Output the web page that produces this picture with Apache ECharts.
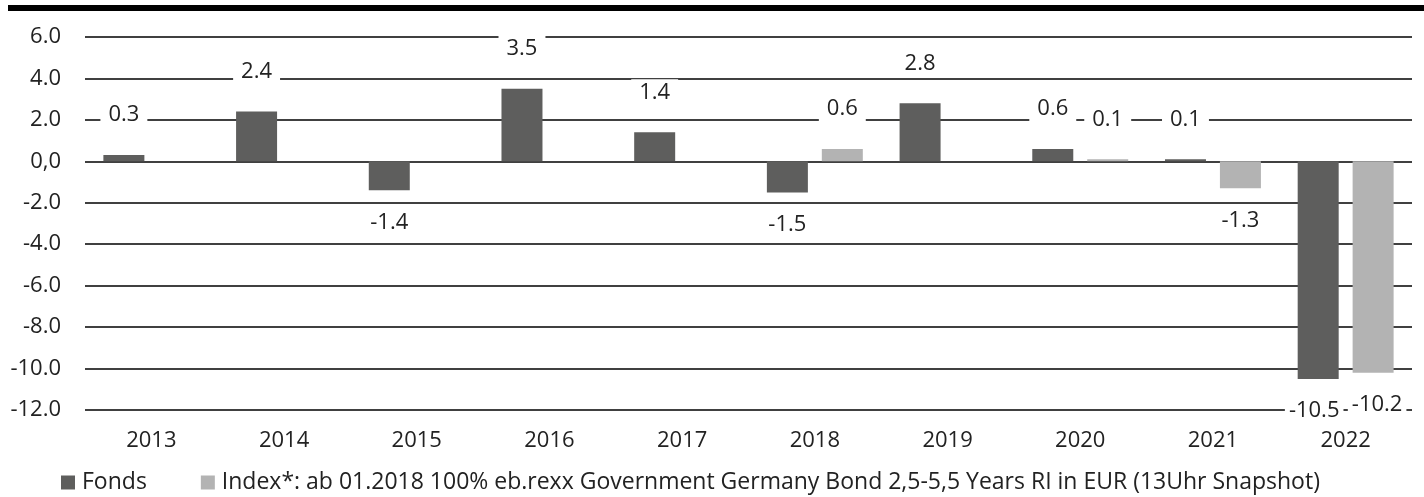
<!DOCTYPE html>
<html>
<head>
<meta charset="utf-8">
<script src="https://cdn.jsdelivr.net/npm/echarts@6/dist/echarts.min.js"></script>
<style>
html,body{margin:0;padding:0;background:#fff;}
#chart{width:1424px;height:497px;}
</style>
</head>
<body>
<div id="chart"></div>
<script>
const categories = ['2013','2014','2015','2016','2017','2018','2019','2020','2021','2022'];
const fondsValues = [0.3, 2.4, -1.4, 3.5, 1.4, -1.5, 2.8, 0.6, 0.1, -10.5];
const indexValues = [null, null, null, null, null, 0.6, null, 0.1, -1.3, -10.2];
const seriesNames = ['Fonds', 'Index*: ab 01.2018 100% eb.rexx Government Germany Bond 2,5-5,5 Years RI in EUR (13Uhr Snapshot)'];
const yMin = -12, yMax = 6, yInterval = 2;

const FONT = 'Open Sans';
const TXT = '#222';
const FS = 22;

function toItems(arr, shift) {
  return arr.map(v => {
    if (v === null) return '-';
    const wide = Math.abs(v) >= 10;
    return {
      value: v,
      label: {
        position: v < 0 ? 'bottom' : 'top',
        distance: v < 0 ? 19 : 27,
        padding: wide ? [2, 4, 2, 4] : [2, 8, 2, 8],
        offset: wide ? [shift, 0] : [0, 0]
      }
    };
  });
}

const labelStyle = {
  show: true,
  formatter: p => Number(p.value).toFixed(1),
  fontFamily: FONT,
  fontSize: FS,
  color: TXT,
  backgroundColor: '#fff',
  padding: [2, 8, 2, 8]
};

const chart = echarts.init(document.getElementById('chart'), null, {renderer: 'canvas'});
chart.setOption({
  animation: false,
  textStyle: { fontFamily: FONT },
  graphic: [{
    type: 'rect', left: 8, top: 5, z: 100,
    shape: { width: 1416, height: 6 },
    style: { fill: '#000' }
  }],
  grid: { left: 85, right: 12, top: 37, bottom: 87, containLabel: false },
  legend: {
    left: 56, top: 466,
    icon: 'rect', itemWidth: 14, itemHeight: 14, itemGap: 54,
    textStyle: { fontFamily: FONT, fontSize: 23, color: TXT, padding: [0,0,0,2] },
    data: seriesNames
  },
  xAxis: {
    type: 'category',
    data: categories,
    axisLine: { show: false },
    axisTick: { show: false },
    axisLabel: { fontFamily: FONT, fontSize: FS, color: TXT, margin: 20 }
  },
  yAxis: {
    type: 'value',
    min: yMin, max: yMax, interval: yInterval,
    axisLine: { show: false },
    axisTick: { show: false },
    axisLabel: {
      fontFamily: FONT, fontSize: FS, color: TXT, margin: 24,
      formatter: v => v === 0 ? '0,0' : v.toFixed(1)
    },
    splitLine: { lineStyle: { color: '#000', width: 1.6 } }
  },
  series: [
    {
      name: seriesNames[0], type: 'bar',
      data: toItems(fondsValues, -4),
      itemStyle: { color: '#5e5e5d' },
      barWidth: 41, barGap: '34%',
      label: labelStyle
    },
    {
      name: seriesNames[1], type: 'bar',
      data: toItems(indexValues, 4),
      itemStyle: { color: '#b3b3b3' },
      barWidth: 41, barGap: '34%',
      label: labelStyle
    }
  ]
});
</script>
</body>
</html>
